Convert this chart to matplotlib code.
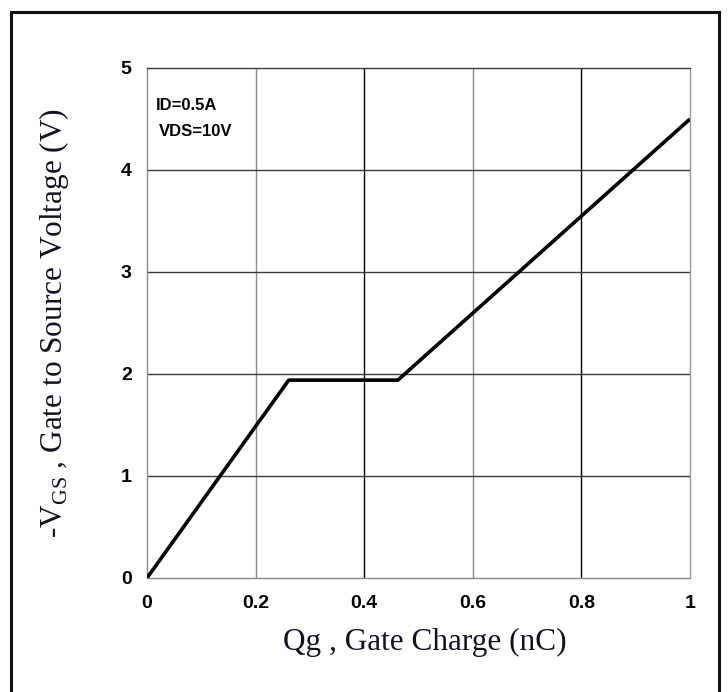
import matplotlib
matplotlib.use("Agg")
import matplotlib.pyplot as plt
from matplotlib.patches import Rectangle

# Data
qg = [0.0, 0.261, 0.462, 1.0]
vgs = [0.0, 1.94, 1.94, 4.5]
xticks = [0, 0.2, 0.4, 0.6, 0.8, 1]
xticklabels = ["0", "0.2", "0.4", "0.6", "0.8", "1"]
yticks = [0, 1, 2, 3, 4, 5]
yticklabels = ["0", "1", "2", "3", "4", "5"]

W, H = 728, 692
fig = plt.figure(figsize=(W / 100, H / 100), dpi=100)
L, R, T, B = 147, 690, 68, 578
ax = fig.add_axes([L / W, 1 - B / H, (R - L) / W, (B - T) / H])

tickfont = dict(family=["Liberation Sans Narrow", "Liberation Sans", "DejaVu Sans"],
                weight="bold", size=14)
annfont = dict(family=["Liberation Sans", "DejaVu Sans"], weight="bold", size=12)

ax.set_xlim(0, 1)
ax.set_ylim(0, 5)

# grid lines
for x in [0.2, 0.6]:
    ax.axvline(x, color="#8a8a8a", lw=1.0, zorder=1)
for x in [0.4, 0.8]:
    ax.axvline(x, color="#000000", lw=1.0, zorder=1)
for y in [1, 2, 3, 4]:
    ax.axhline(y, color="#3a3a3a", lw=1.0, zorder=1)

ax.plot(qg, vgs, color="black", lw=2.6, zorder=3, solid_capstyle="butt")

for side, c in [("left", "#8a8a8a"), ("right", "#9a9a9a"), ("top", "#3a3a3a"), ("bottom", "#8a8a8a")]:
    ax.spines[side].set_color(c)
    ax.spines[side].set_linewidth(1.0)

ax.set_xticks(xticks)
ax.set_xticklabels(xticklabels, fontdict=tickfont)
ax.set_yticks(yticks)
ax.set_yticklabels(yticklabels, fontdict=tickfont)
ax.tick_params(axis="x", length=0, pad=12)
ax.tick_params(axis="y", length=0, pad=11)

ax.text(0.017, 4.63, "ID=0.5A", fontdict=annfont, va="center", ha="left")
ax.text(0.021, 4.38, "VDS=10V", fontdict=annfont, va="center", ha="left")

serif = ["Liberation Serif", "DejaVu Serif"]
fig.text(425 / W, 1 - 650 / H, "Qg , Gate Charge (nC)", family=serif, fontsize=22.5,
         color="#101020", ha="center", va="baseline")
fig.text(54 / W, 1 - 323 / H, r"-V$_{\mathregular{GS}}$ , Gate to Source Voltage (V)",
         family=serif, fontsize=22.5, color="#101020", ha="center", va="center",
         rotation=90)

# outer frame
fig.patches.append(Rectangle((11 / W, -0.05), (719 - 11) / W, 1.05 - 12 / H,
                             transform=fig.transFigure, fill=False,
                             edgecolor="#111111", lw=2.2))

fig.savefig("out.png", dpi=100, facecolor="white")
